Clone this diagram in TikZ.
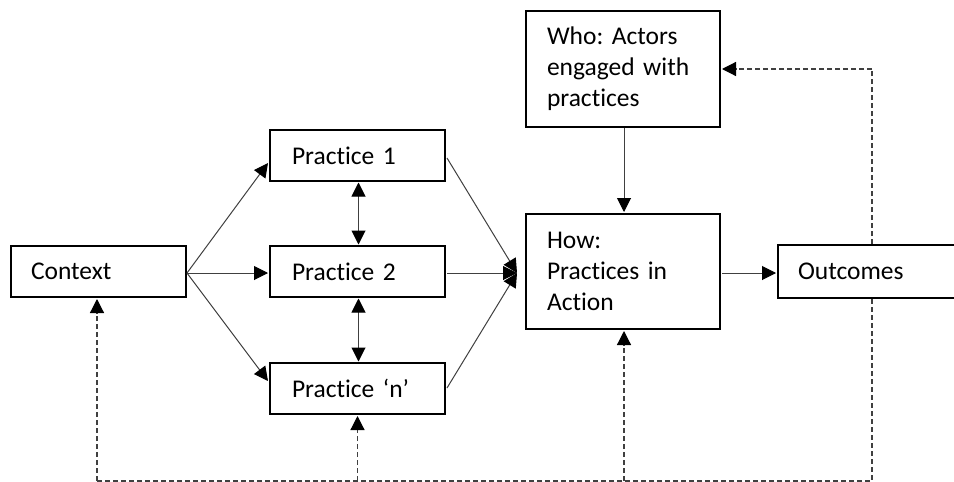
\documentclass[tikz,border=0pt]{standalone}
\usepackage{fontspec}
\setmainfont{Carlito}[Ligatures=NoCommon]
\frenchspacing
\usetikzlibrary{arrows.meta,calc}
\begin{document}
\begin{tikzpicture}[x=1pt,y=-1pt,
  box/.style={draw,line width=2pt,rectangle,inner ysep=0pt,
    font=\fontsize{25.5}{31}\selectfont,align=left,anchor=north west},
  tip/.tip={Triangle[length=14pt,width=14pt,color=black,fill=black]},
  link/.style={line width=1pt,black!75,-tip},
  both/.style={line width=1pt,black!75,tip-tip},
  feedback/.style={line width=1.2pt,black!75,dash pattern=on 5pt off 3pt},
  fbarrow/.style={feedback,-tip}]
\useasboundingbox (0,0) rectangle (954,482);
\clip (0,0) rectangle (954,482);

% boxes
\node[box,minimum height=51pt,text width=135pt,inner xsep=20pt] (ctx) at (10,245) {Context};
\node[box,minimum height=51pt,text width=131pt,inner xsep=22pt] (p1) at (269,129) {Practice 1};
\node[box,minimum height=51pt,text width=131pt,inner xsep=22pt] (p2) at (269,245) {Practice 2};
\node[box,minimum height=51pt,text width=131pt,inner xsep=22pt] (pn) at (269,362) {Practice ‘n’};
\node[box,minimum height=116pt,text width=152pt,inner xsep=21pt] (who) at (525,10) {Who: Actors\\engaged with\\practices};
\node[box,minimum height=115pt,text width=152pt,inner xsep=21pt] (how) at (525,213) {How:\\Practices in\\Action};
\node[box,minimum height=53pt,text width=220pt,inner xsep=20pt] (out) at (777,244) {Outcomes};

% points where the connectors meet the boxes
\coordinate (ctxR) at ($(ctx.east)+(0,1.5)$);
\coordinate (howL) at ($(how.west)+(-8,1.5)$);
\coordinate (fbx) at ($(out.north west)+(95,0)$);
\coordinate (fbTop) at (fbx |- who.east);
\coordinate (fbBR) at ($(fbx)+(0,237)$);
\coordinate (fbBL) at ($(ctx.south west)+(87,0)$);
\coordinate (fbLeft) at (fbBL |- fbBR);
\coordinate (fbPn) at (pn.south |- fbBR);
\coordinate (fbHow) at ($(how.south)+(1,0)$);
\coordinate (fbHowB) at (fbHow |- fbBR);

% context to practices
\draw[link] (ctxR) -- ($(p1.west)+(-1,7.5)$);
\draw[link] (ctxR) -- ($(p2.west)+(-1,1.5)$);
\draw[link] (ctxR) -- ($(pn.west)+(-1,-7.5)$);

% between practices
\draw[both] ($(p1.south)+(1,0.5)$) -- ($(p2.north)+(1,-0.5)$);
\draw[both] ($(p2.south)+(1,0.5)$) -- ($(pn.north)+(1,-0.5)$);

% practices to how
\draw[link] ($(p1.east)+(1,2.5)$) -- (howL);
\draw[link] ($(p2.east)+(1,1.5)$) -- (howL);
\draw[link] ($(pn.east)+(1,-0.5)$) -- (howL);

% who to how, how to outcomes
\draw[link] ($(who.south)+(1,0)$) -- ($(how.north)+(1,-1)$);
\draw[link] ($(how.east)+(1,1.5)$) -- ($(out.west)+(-1,1.5)$);

% feedback loops
\draw[feedback] (fbx) -- (fbTop);
\draw[fbarrow] (fbTop) -- ($(who.east)+(1,0)$);
\draw[feedback] (fbx |- out.south) -- (fbBR) -- (fbLeft);
\draw[fbarrow] (fbLeft) -- ($(fbBL)+(0,1)$);
\draw[fbarrow] (fbPn) -- ($(pn.south)+(0,1)$);
\draw[fbarrow] (fbHowB) -- ($(fbHow)+(0,1)$);
\end{tikzpicture}
\end{document}
